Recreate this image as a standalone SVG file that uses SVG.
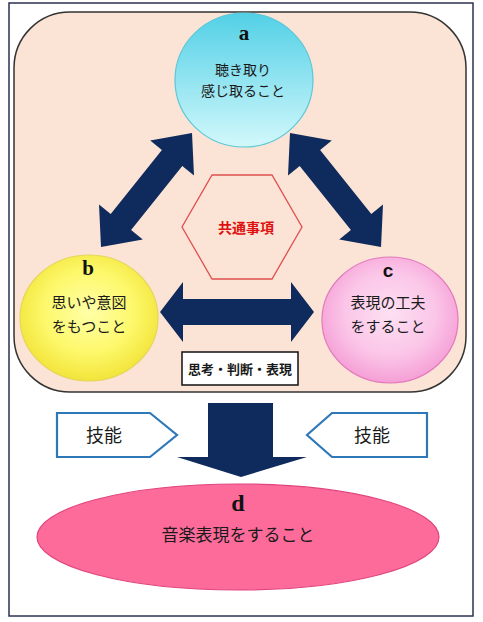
<svg xmlns="http://www.w3.org/2000/svg" width="483" height="622" viewBox="0 0 483 622">
  <defs>
    <linearGradient id="gA" x1="0" y1="0" x2="0" y2="1">
      <stop offset="0" stop-color="#52d0e6"/>
      <stop offset="1" stop-color="#d2f8fb"/>
    </linearGradient>
    <radialGradient id="gB" cx="0.5" cy="0.45" r="0.55">
      <stop offset="0" stop-color="#ffffa8"/>
      <stop offset="0.6" stop-color="#fdf86a"/>
      <stop offset="1" stop-color="#f2e43a"/>
    </radialGradient>
    <radialGradient id="gC" cx="0.5" cy="0.45" r="0.55">
      <stop offset="0" stop-color="#fde0f2"/>
      <stop offset="0.6" stop-color="#fbc6e8"/>
      <stop offset="1" stop-color="#f59fd6"/>
    </radialGradient>
    <style>
      .jp { font-family: "Noto Sans CJK JP", "Noto Sans", sans-serif; fill: #1a1a1a; text-anchor: middle; }
      .lt { font-family: "Liberation Serif", serif; font-weight: bold; fill: #111; text-anchor: middle; }
      .arrow { fill: #0f2a5c; }
      .skill { fill: #ffffff; stroke: #2e78b8; stroke-width: 2.2; }
    </style>
  </defs>

  <rect x="0" y="0" width="483" height="622" fill="#ffffff"/>
  <rect id="frame" x="9" y="3" width="464" height="613" fill="#ffffff" stroke="#2b3050" stroke-width="1.5"/>
  <rect id="panel" x="14" y="12" width="452" height="380" rx="56" ry="56" fill="#fbe4d5" stroke="#333333" stroke-width="1.5"/>

  <g id="connectors">
    <polygon class="arrow" points="101,247 142.8,239.4 131.1,230.1 182.3,166.1 194,175.4 192,133 150.2,140.6 161.9,149.9 110.7,213.9 99,204.6"/>
    <polygon class="arrow" points="381,247 339.2,239.4 350.9,230.1 299.7,166.1 288,175.4 290,133 331.8,140.6 320.1,149.9 371.3,213.9 383,204.6"/>
    <polygon class="arrow" points="160,312 183,282 183,299 291,299 291,282 314,312 291,342 291,325 183,325 183,342"/>
    <polygon class="arrow" points="208,403 273,403 273,457 307,457 241,477 177,457 208,457"/>
  </g>

  <g id="node-a">
    <ellipse cx="244" cy="80" rx="69" ry="67" fill="url(#gA)" stroke="#5cc8d8" stroke-width="1.2"/>
    <text class="lt" x="244" y="40" font-size="21">a</text>
    <text class="jp" x="243" y="75" font-size="14">聴き取り</text>
    <text class="jp" x="243" y="96" font-size="14">感じ取ること</text>
  </g>

  <g id="node-b">
    <ellipse cx="89" cy="318" rx="69" ry="63" fill="url(#gB)" stroke="#e6d65a" stroke-width="1.2"/>
    <text class="lt" x="88" y="275" font-size="21">b</text>
    <text class="jp" x="89" y="308" font-size="15">思いや意図</text>
    <text class="jp" x="89" y="332" font-size="15">をもつこと</text>
  </g>

  <g id="node-c">
    <ellipse cx="390" cy="320" rx="68" ry="63" fill="url(#gC)" stroke="#e27abd" stroke-width="1.2"/>
    <text x="388" y="277" font-size="19" font-weight="bold" font-family="Liberation Sans, sans-serif" fill="#111" text-anchor="middle">c</text>
    <text class="jp" x="388" y="308" font-size="15">表現の工夫</text>
    <text class="jp" x="388" y="332" font-size="15">をすること</text>
  </g>

  <g id="common">
    <polygon points="212,175 272,175 302,227 272,279 212,279 182,227" fill="none" stroke="#e05050" stroke-width="1.3"/>
    <text x="246" y="233" font-size="14" font-weight="bold" font-family="Noto Sans CJK JP, sans-serif" fill="#e01010" text-anchor="middle">共通事項</text>
  </g>

  <g id="thinking">
    <rect x="182" y="352" width="116" height="33" fill="#ffffff" stroke="#111111" stroke-width="1.5"/>
    <text class="jp" x="240" y="374" font-size="13" font-weight="bold">思考・判断・表現</text>
  </g>

  <g id="skill-left">
    <polygon class="skill" points="57,413 150,413 177,435 150,457 57,457"/>
    <text class="jp" x="104" y="442" font-size="18">技能</text>
  </g>

  <g id="skill-right">
    <polygon class="skill" points="427,413 332,413 307,435 332,457 427,457"/>
    <text class="jp" x="372" y="442" font-size="18">技能</text>
  </g>

  <g id="node-d">
    <ellipse cx="238" cy="537" rx="201" ry="53" fill="#fd6b9b" stroke="#e0447e" stroke-width="1.2"/>
    <text class="lt" x="238" y="511" font-size="24">d</text>
    <text class="jp" x="238" y="541" font-size="17">音楽表現をすること</text>
  </g>
</svg>
